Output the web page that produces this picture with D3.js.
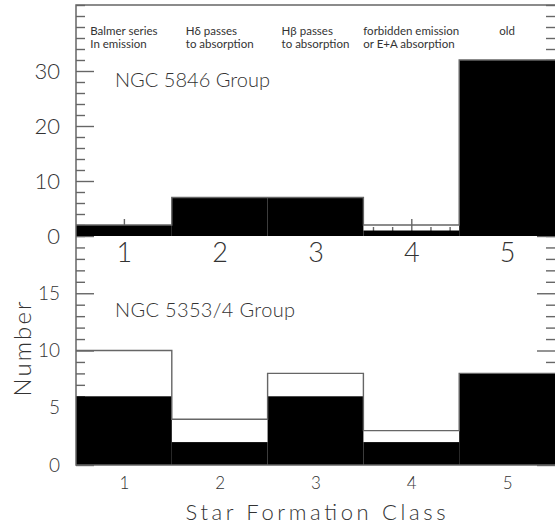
<!DOCTYPE html>
<html>
<head>
<meta charset="utf-8">
<script src="https://cdn.jsdelivr.net/npm/d3@7"></script>
<style>
  body { margin: 0; background: #fff; }
  svg { display: block; }
  text { font-family: Lato, "Liberation Sans", sans-serif; fill: #333; }
</style>
</head>
<body>
<div id="chart"></div>
<script>
// star formation classes and counts per group
const classes = [1, 2, 3, 4, 5]
const topTotal = [2, 7, 7, 2, 32]   // NGC 5846, all galaxies (outline)
const topFilled = [2, 7, 7, 1, 32]  // NGC 5846, filled part
const botTotal = [10, 4, 8, 3, 8]   // NGC 5353/4, all galaxies (outline)
const botFilled = [6, 2, 6, 2, 8]   // NGC 5353/4, filled part
const topMajor = [0, 10, 20, 30]
const botMajor = [0, 5, 10, 15]
const headLine1 = ["Balmer series", "H\u03B4 passes", "H\u03B2 passes", "forbidden emission", "old"]
const headLine2 = ["In emission", "to absorption", "to absorption", "or E+A absorption", ""]

const width = 555, height = 527
const frame = {left: 76, right: 555, top: 5, mid: 236, bottom: 465}

const svg = d3.select("#chart").append("svg")
  .attr("width", width).attr("height", height)

const x = d3.scaleLinear().domain([0.5, 5.5]).range([frame.left, frame.right])
const yTop = d3.scaleLinear().domain([0, 42]).range([frame.mid, frame.top])
const yBot = d3.scaleLinear().domain([0, 20]).range([frame.bottom, frame.mid])

const axisColor = "#666"

// ticks go under the bars, so draw them first
function yTicks(y, major, minorStep, labelSize) {
  const minor = d3.range(0, y.domain()[1] + 0.001, minorStep).filter(v => !major.includes(v))
  const gl = svg.append("g").attr("transform", `translate(${frame.left},0)`)
  gl.append("g").call(d3.axisLeft(y).tickValues(minor).tickSize(-9).tickFormat(""))
  gl.append("g").call(d3.axisLeft(y).tickValues(major).tickSize(-18).tickPadding(16))
    .call(g => g.selectAll("text").style("font-size", labelSize + "px").style("font-weight", 300).attr("fill", "#444"))
  const gr = svg.append("g").attr("transform", `translate(${frame.right},0)`)
  gr.append("g").call(d3.axisRight(y).tickValues(minor).tickSize(-9).tickFormat(""))
  gr.append("g").call(d3.axisRight(y).tickValues(major).tickSize(-18).tickFormat(""))
  svg.selectAll(".domain").remove()
}

function xTicks(yPos, labelSize, pad) {
  const minor = d3.range(0.6, 5.5, 0.2).filter(v => Math.abs(v - Math.round(v)) > 0.01)
  const g = svg.append("g").attr("transform", `translate(0,${yPos})`)
  g.append("g").call(d3.axisBottom(x).tickValues(minor).tickSize(-9).tickFormat(""))
  g.append("g").call(d3.axisBottom(x).tickValues(classes).tickSize(-17).tickPadding(pad).tickFormat(d3.format("d")))
    .call(g => g.selectAll("text").style("font-size", labelSize + "px").style("font-weight", 300).attr("fill", "#444"))
  svg.selectAll(".domain").remove()
}

yTicks(yTop, topMajor, 2, 22)
yTicks(yBot, botMajor, 1, 19)
xTicks(frame.mid, 27, 7)
xTicks(frame.bottom, 17, 12)

svg.selectAll(".tick line").attr("stroke", axisColor).attr("stroke-width", 1.4)

function histogram(y, total, filled) {
  svg.append("g").selectAll("rect")
    .data(classes)
    .join("rect")
    .attr("x", (d, i) => x(d - 0.5))
    .attr("width", x(1.5) - x(0.5))
    .attr("y", (d, i) => y(filled[i]))
    .attr("height", (d, i) => y(0) - y(filled[i]))
    .attr("fill", "#000")

  const pts = classes.flatMap((d, i) => [[d - 0.5, total[i]], [d + 0.5, total[i]]])
  svg.append("path")
    .attr("d", d3.line().x(d => x(d[0])).y(d => y(d[1]))(pts))
    .attr("fill", "none")
    .attr("stroke", axisColor)
    .attr("stroke-width", 1.4)
}

histogram(yTop, topTotal, topFilled)
histogram(yBot, botTotal, botFilled)

// frame
svg.append("path")
  .attr("d", `M${frame.right},${frame.top}H${frame.left}V${frame.bottom}H${frame.right}`)
  .attr("fill", "none").attr("stroke", axisColor).attr("stroke-width", 1.5)

// header explaining each class
classes.forEach((c, i) => {
  const g = svg.append("g")
  const t1 = g.append("text").attr("y", 35).style("font-size", "11.5px").text(headLine1[i])
  const t2 = g.append("text").attr("y", 48).style("font-size", "11.5px").text(headLine2[i])
  const w = Math.max(t1.node().getComputedTextLength(), t2.node().getComputedTextLength())
  g.selectAll("text").attr("x", x(c) - w / 2)
})

svg.append("text").attr("x", 115).attr("y", 87)
  .attr("textLength", 155).style("font-size", "20px").style("font-weight", 300)
  .text("NGC 5846 Group")

svg.append("text").attr("x", 115).attr("y", 317)
  .attr("textLength", 180).style("font-size", "20px").style("font-weight", 300)
  .text("NGC 5353/4 Group")

svg.append("text")
  .attr("x", x(3)).attr("y", 520)
  .attr("text-anchor", "middle")
  .attr("textLength", 260)
  .style("font-size", "22px").style("font-weight", 300).attr("fill", "#444")
  .text("Star Formation Class")

svg.append("text")
  .attr("transform", "translate(31,349) rotate(-90)")
  .attr("text-anchor", "middle")
  .attr("textLength", 95)
  .style("font-size", "24px").style("font-weight", 300).attr("fill", "#444")
  .text("Number")
</script>
</body>
</html>
